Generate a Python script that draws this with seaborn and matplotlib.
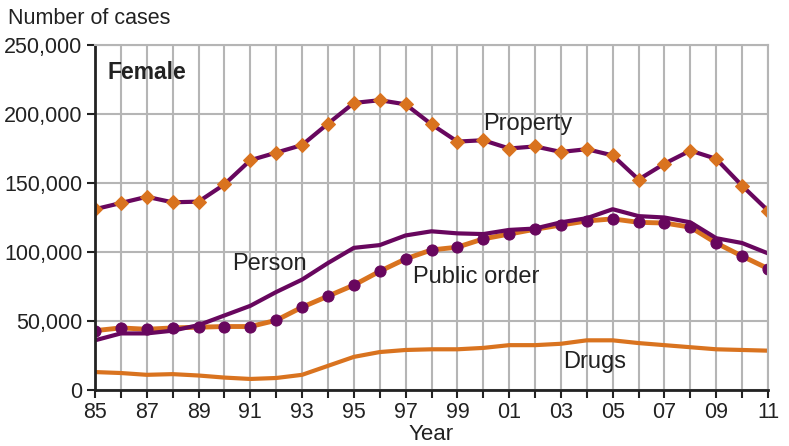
import numpy as np
import pandas as pd
import matplotlib
matplotlib.use("Agg")
import matplotlib.pyplot as plt
import seaborn as sns

years = list(range(1985, 2012))
property_cases = [131000, 135500, 140000, 136000, 136500, 149000, 166500, 172000, 177500, 193000,
                  208000, 210000, 207000, 192500, 180000, 181000, 175000, 176500, 172500, 174500,
                  170000, 152500, 164000, 173500, 167500, 148000, 130000]
person_cases = [36000, 41000, 41000, 43000, 47000, 54000, 61000, 71000, 80000, 92000,
                103000, 105000, 112000, 115000, 113500, 113000, 116000, 117000, 121500, 124500,
                131000, 126000, 125000, 121500, 110000, 106500, 99000]
public_order_cases = [43000, 45000, 44000, 45000, 45500, 46000, 46000, 50500, 60000, 68000,
                      76000, 86000, 95000, 101500, 103500, 109500, 113000, 116500, 119500, 122500,
                      124000, 121500, 121000, 118000, 106500, 97000, 88000]
drugs_cases = [13000, 12300, 11000, 11500, 10500, 9000, 8000, 8700, 11000, 17500,
               24000, 27500, 29000, 29500, 29500, 30500, 32500, 32500, 33500, 36000,
               36000, 34000, 32500, 31000, 29500, 29000, 28500]

df = pd.DataFrame({
    "year": years,
    "Property": property_cases,
    "Person": person_cases,
    "Public order": public_order_cases,
    "Drugs": drugs_cases,
})

purple = "#68075e"
orange = "#d9731f"
ink = "#222222"

sns.set_theme(style="white")
plt.rcParams["font.family"] = ["Liberation Sans", "DejaVu Sans"]

fig = plt.figure(figsize=(7.89, 4.46), dpi=100)
ax = fig.add_axes([95 / 789, 56 / 446, 673 / 789, 345 / 446])

sns.lineplot(data=df, x="year", y="Drugs", color=orange, lw=3, ax=ax)
sns.lineplot(data=df, x="year", y="Public order", color=orange, lw=3.5, ax=ax,
             marker="o", markersize=8, markerfacecolor=purple, markeredgecolor=purple)
sns.lineplot(data=df, x="year", y="Person", color=purple, lw=3, ax=ax)
sns.lineplot(data=df, x="year", y="Property", color=purple, lw=3, ax=ax,
             marker="D", markersize=7, markerfacecolor=orange, markeredgecolor=orange)

ax.set_xlim(1985, 2011)
ax.set_ylim(0, 250000)
ax.set_xticks(years)
ax.set_xticklabels([f"{y % 100:02d}" if (y - 1985) % 2 == 0 else "" for y in years])
ax.set_yticks(range(0, 250001, 50000))
ax.set_yticklabels([f"{v:,}" for v in range(0, 250001, 50000)])
ax.grid(True, color="#b5b5b5", lw=1.5)
ax.set_axisbelow(True)
for s in ["top", "right"]:
    ax.spines[s].set_color("#b5b5b5")
    ax.spines[s].set_linewidth(1.5)
for s in ["left", "bottom"]:
    ax.spines[s].set_color(ink)
    ax.spines[s].set_linewidth(2)
ax.tick_params(axis="both", which="both", direction="out", length=6, width=1.5,
               color=ink, labelsize=15.5, labelcolor=ink, bottom=True, left=True, pad=3)
ax.set_xlabel("Year", fontsize=16, color=ink, labelpad=0.5)
ax.set_ylabel("")
fig.text(8 / 789, 1 - 18 / 446, "Number of cases", fontsize=15.5, color=ink, va="center")

ax.text(1985.5, 230000, "Female", fontsize=16.5, fontweight="bold", color=ink, va="center")
ax.text(2000.0, 193000, "Property", fontsize=17, color=ink, va="center")
ax.text(1990.3, 91000, "Person", fontsize=17, color=ink, va="center")
ax.text(1997.3, 82000, "Public order", fontsize=17, color=ink, va="center")
ax.text(2003.1, 20000, "Drugs", fontsize=17, color=ink, va="center")

fig.savefig("out.png", dpi=100)
